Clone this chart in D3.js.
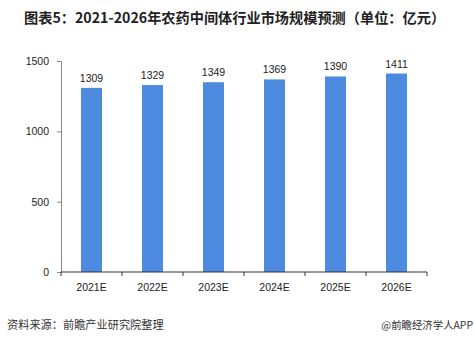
<!DOCTYPE html>
<html>
<head>
<meta charset="utf-8">
<script src="https://cdn.jsdelivr.net/npm/d3@7"></script>
<style>
  body { margin: 0; background: #fff; }
  text { font-family: "Noto Sans CJK SC", "DejaVu Sans", sans-serif; }
  .num { font-family: "Liberation Sans", Arial, sans-serif; }
</style>
</head>
<body>
<div id="chart"></div>
<script>
// chart data
const years = ["2021E", "2022E", "2023E", "2024E", "2025E", "2026E"];
const values = [1309, 1329, 1349, 1369, 1390, 1411];
const yTicks = [0, 500, 1000, 1500];

const width = 474, height = 343;
const margin = { left: 61, right: 47, top: 61, bottom: 71 };

const svg = d3.select("#chart").append("svg")
    .attr("width", width)
    .attr("height", height);

const x = d3.scaleBand()
    .domain(years)
    .range([margin.left, width - margin.right]);

const y = d3.scaleLinear()
    .domain([0, 1500])
    .range([height - margin.bottom, margin.top]);

// title
svg.append("text")
    .attr("x", 24)
    .attr("y", 23)
    .attr("font-size", 14.2)
    .attr("font-weight", "bold")
    .attr("fill", "#222")
    .text("图表5：2021-2026年农药中间体行业市场规模预测（单位：亿元）");

// bars
const barW = 21;
svg.append("g").selectAll("rect")
    .data(values)
    .join("rect")
    .attr("x", (d, i) => x(years[i]) + x.bandwidth() / 2 - barW / 2)
    .attr("y", d => y(d))
    .attr("width", barW)
    .attr("height", d => y(0) - y(d))
    .attr("fill", "#4d8be0");

// value labels
svg.append("g").selectAll("text")
    .data(values)
    .join("text")
    .attr("class", "num")
    .attr("x", (d, i) => x(years[i]) + x.bandwidth() / 2)
    .attr("y", d => y(d) - 6)
    .attr("text-anchor", "middle")
    .attr("font-size", 10.5)
    .attr("fill", "#222")
    .text(d => d);

// y axis
const yAxis = svg.append("g")
    .attr("transform", `translate(${margin.left},0)`)
    .call(d3.axisLeft(y).tickValues(yTicks).tickFormat(d3.format("d")).tickSize(4).tickPadding(8));
yAxis.selectAll("path, line").attr("stroke", "#888");
yAxis.selectAll("text").attr("class", "num").attr("font-size", 10.5).attr("fill", "#222");

// x axis: ticks at category boundaries
const xAxis = svg.append("g")
    .attr("transform", `translate(0,${y(0)})`);
xAxis.append("line")
    .attr("x1", margin.left).attr("x2", width - margin.right)
    .attr("stroke", "#333");
xAxis.selectAll("line.tick")
    .data(years.concat(["end"]))
    .join("line")
    .attr("class", "tick")
    .attr("x1", (d, i) => i < years.length ? x(d) : x(years[years.length - 1]) + x.bandwidth())
    .attr("x2", (d, i) => i < years.length ? x(d) : x(years[years.length - 1]) + x.bandwidth())
    .attr("y1", 0).attr("y2", 4)
    .attr("stroke", "#333");
xAxis.selectAll("text")
    .data(years)
    .join("text")
    .attr("class", "num")
    .attr("x", d => x(d) + x.bandwidth() / 2)
    .attr("y", 19)
    .attr("text-anchor", "middle")
    .attr("font-size", 10.5)
    .attr("fill", "#222")
    .text(d => d);

// footer
svg.append("text")
    .attr("x", 7)
    .attr("y", 329)
    .attr("font-size", 11.2)
    .attr("fill", "#333")
    .text("资料来源：前瞻产业研究院整理");
svg.append("text")
    .attr("x", 473)
    .attr("y", 329)
    .attr("text-anchor", "end")
    .attr("font-size", 10.4)
    .attr("fill", "#333")
    .text("@前瞻经济学人APP");
</script>
</body>
</html>
